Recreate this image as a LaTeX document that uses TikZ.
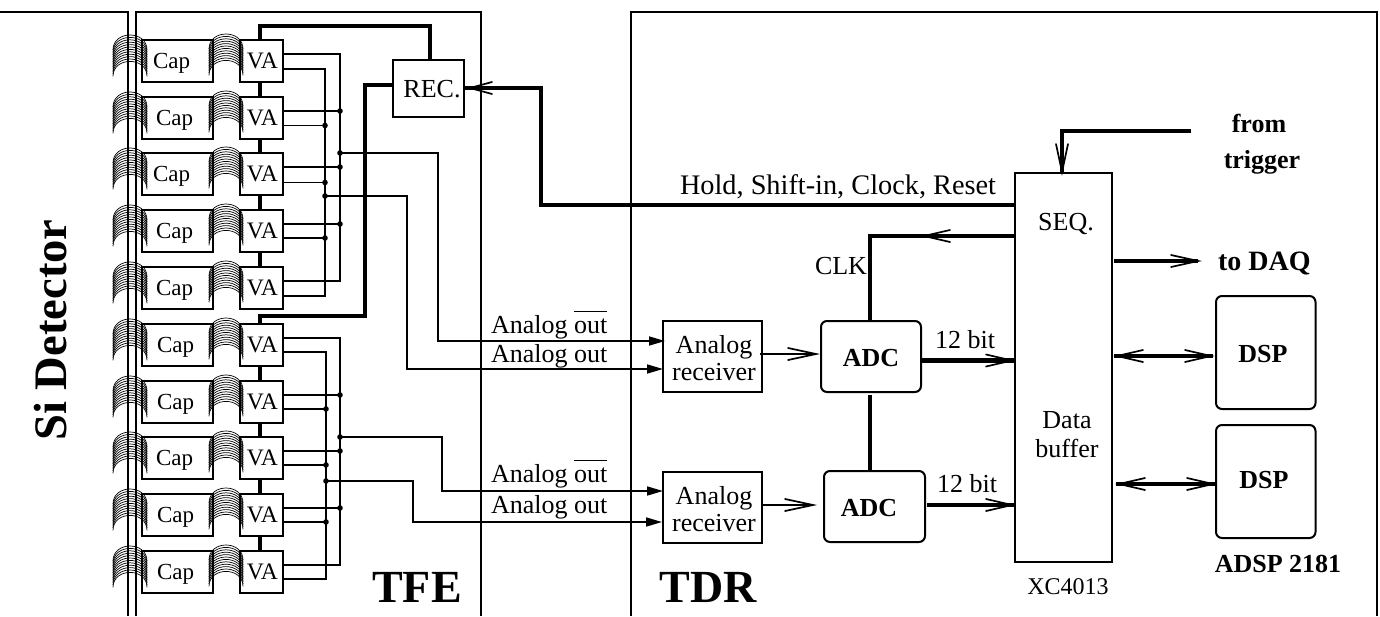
\documentclass[tikz,border=0pt]{standalone}
\usepackage{fontspec}
\setmainfont{Liberation Serif}
\usetikzlibrary{arrows.meta,calc}
\newcommand{\fs}[1]{\fontsize{#1}{#1}\selectfont}
\tikzset{
  x=0.5pt,y=-0.5pt,
  frame/.style={line width=0.85pt},
  sig/.style={line width=0.8pt},
  thick1/.style={line width=1.7pt},
  thick2/.style={line width=2.3pt},
  txt/.style={inner sep=0pt,outer sep=0pt,font=\fs{13}},
  boxn/.style={draw,line width=1pt,inner sep=0pt,outer sep=0pt,anchor=north west},
  dot/.style={circle,fill=black,inner sep=0pt,minimum size=2.8pt},
  arc1/.style={line width=0.35pt},
  fhead/.style={-{Triangle[length=8pt,width=4.5pt]}},
}
\newcommand{\vhead}[4][14]{%
  \draw[line width=0.85pt,line cap=round] ($(#2)+(#3*#1,#4*#1)+(-#4*6,#3*6)$) -- (#2) -- ($(#2)+(#3*#1,#4*#1)+(#4*6,-#3*6)$);}
\newcommand{\coil}[2]{%
  \foreach \k in {0,...,11}{%
    \draw[arc1] ($(#1,#2)+(0,2.4*\k+15)$) .. controls +(0,-20) and +(0,-20) .. +(34,0);}%
}
\newcommand{\ovout}{$\overline{\hbox{\rule{0pt}{9.4pt}out}}$}
\begin{document}
\begin{tikzpicture}
\useasboundingbox (0,0) rectangle (1380,616);
% frames
\coordinate (tl0) at (0,12); \coordinate (tl1) at (128,12); \coordinate (tl2) at (128,616);
\coordinate (f1) at (136,616); \coordinate (f2) at (136,12); \coordinate (f3) at (481,12); \coordinate (f4) at (481,616);
\coordinate (g1) at (631,616); \coordinate (g2) at (631,12); \coordinate (g3) at (1377,12); \coordinate (g4) at (1377,616);
\draw[frame] (tl0)--(tl1)--(tl2);
\draw[frame] (f1)--(f2)--(f3)--(f4);
\draw[frame] (g1)--(g2)--(g3)--(g4);
% rows
\foreach \n/\t/\cx in {1/40/153,2/97/156,3/153/153,4/210/156,5/267/156,6/324/157,7/381/157,8/437/156,9/494/157,10/551/157}{
  \coil{113}{\t-5}
  \coil{209}{\t-6}
  \node[boxn,minimum width=70.5*0.5pt,minimum height=42*0.5pt] (cap\n) at (142,\t) {};
  \node[txt,anchor=base west,font=\fs{11.5}] (captxt\n) at (\cx,\t+28) {Cap};
  \node[boxn,minimum width=43*0.5pt,minimum height=42*0.5pt] (va\n) at (240,\t) {};
  \node[txt,anchor=base,font=\fs{11.8}] (vatxt\n) at (262.5,\t+28) {VA};
}
% VA chains
\coordinate (busT) at (260,26);
\coordinate (busTR) at (430,26);
\node[boxn,minimum width=71*0.5pt,minimum height=57*0.5pt] (rec) at (393,60) {};
\node[txt,anchor=base] (rectxt) at (432,97) {REC.};
\draw[thick1] (260,40)--(busT)--(busTR)--(430,60);
\foreach \a/\b in {1/2,2/3,3/4,4/5,6/7,7/8,8/9,9/10}{
  \draw[thick1] (va\a.south -| 260,0)--(va\b.north -| 260,0);
}
\draw[thick1] (260,324)--(260,316)--(365,316)--(365,85)--(393,85);
% output buses, upper group
\draw[sig] (283,54)--(340,54)--(340,281)--(283,281);
\draw[sig] (283,69)--(325,69)--(325,296)--(283,296);
\foreach \y in {111,167,224}{\draw[sig] (283,\y)--(340,\y); \node[dot] at (340,\y) {};}
\foreach \y in {125.5,182.5,238}{\draw[sig] (283,\y)--(325,\y); \node[dot] at (325,\y) {};}
% lower group
\draw[sig] (283,338)--(340,338)--(340,565)--(283,565);
\draw[sig] (283,352)--(326,352)--(326,579)--(283,579);
\foreach \y in {395,451,508}{\draw[sig] (283,\y)--(340,\y); \node[dot] at (340,\y) {};}
\foreach \y in {409,465,522}{\draw[sig] (283,\y)--(326,\y); \node[dot] at (326,\y) {};}
% receivers
\node[boxn,minimum width=99.5*0.5pt,minimum height=71*0.5pt] (rx1) at (662.7,321) {};
\node[txt,anchor=base] (rx1a) at (714,353) {Analog};
\node[txt,anchor=base] (rx1b) at (714,380) {receiver};
\node[boxn,minimum width=99.5*0.5pt,minimum height=71*0.5pt] (rx2) at (662.7,472) {};
\node[txt,anchor=base] (rx2a) at (714,504) {Analog};
\node[txt,anchor=base] (rx2b) at (714,531) {receiver};
% analog outs
\node[dot] (d1) at (340,153) {}; \node[dot] (d2) at (325,196) {};
\node[dot] (d3) at (340,437) {}; \node[dot] (d4) at (326,481) {};
\draw[sig,fhead] (d1.center)--(438,153)--(438,341)--(665,341);
\draw[sig,fhead] (d2.center)--(407,196)--(407,369)--(663,369);
\draw[sig,fhead] (d3.center)--(442,437)--(442,491)--(663,491);
\draw[sig,fhead] (d4.center)--(413,481)--(413,522)--(662,522);
\node[txt,anchor=base west] (ao1) at (491,333) {Analog \ovout};
\node[txt,anchor=base west] (ao2) at (491,362) {Analog out};
\node[txt,anchor=base west] (ao3) at (491,482) {Analog \ovout};
\node[txt,anchor=base west] (ao4) at (491,513) {Analog out};
% ADC
\node[boxn,rounded corners=3pt,minimum width=100*0.5pt,minimum height=71*0.5pt] (adc1) at (821,321) {};
\node[boxn,rounded corners=3pt,minimum width=101*0.5pt,minimum height=71*0.5pt] (adc2) at (824,471) {};
\node[txt,anchor=base,font=\fs{13}\bfseries] (adc1t) at (871,366) {ADC};
\node[txt,anchor=base,font=\fs{13}\bfseries] (adc2t) at (869,516) {ADC};
\draw[line width=1pt] (760,354)--(816,354);
\vhead[28]{816,354}{-1}{0}
\draw[line width=1pt] (762,505)--(813,505);
\vhead[28]{813,505}{-1}{0}
% SEQ
\node[boxn,minimum width=97*0.5pt,minimum height=389*0.5pt] (seq) at (1014.5,173) {};
\node[txt,anchor=base] (seqt) at (1066,230) {SEQ.};
\node[txt,anchor=base] (dt1) at (1067,428) {Data};
\node[txt,anchor=base] (dt2) at (1067,457) {buffer};
\node[txt,anchor=base,font=\fs{12}] (xc) at (1068,594) {XC4013};
% clock
\draw[thick1] (870,321)--(870,236)--(1014,236);
\vhead[26]{924,236}{1}{0}
\node[txt,anchor=base east] (clk) at (867,274) {CLK};
\draw[thick1] (870,395)--(870,471);
% hold
\draw[thick1] (1014,205)--(541,205)--(541,88)--(465,88);
\vhead[22]{470,88}{1}{0}
\node[txt,anchor=base west,font=\fs{14.15}] (hold) at (680,194) {Hold, Shift-in, Clock, Reset};
% 12 bit
\draw[thick2] (921,360.5)--(1014,360.5);
\vhead[26]{1012,360.5}{-1}{0}
\node[txt,anchor=base] (b1) at (965,348) {12 bit};
\draw[thick2] (927,505)--(1014,505);
\vhead[26]{1012,505}{-1}{0}
\node[txt,anchor=base] (b2) at (967,492) {12 bit};
% trigger
\draw[thick1] (1191,131)--(1062,131)--(1062,173);
\vhead[28]{1062,172}{0}{-1}
\node[txt,anchor=base,font=\fs{13}\bfseries] (from) at (1259,132) {from};
\node[txt,anchor=base,font=\fs{13}\bfseries] (trig) at (1262,168) {trigger};
% DAQ
\draw[thick2] (1114,261)--(1198,261);
\vhead[27]{1198,261}{-1}{0}
\node[txt,anchor=base west,font=\fs{14}\bfseries] (daq) at (1218,270) {to DAQ};
% DSP
\node[boxn,rounded corners=3pt,minimum width=99.5*0.5pt,minimum height=113*0.5pt] (dsp1) at (1216,296) {};
\node[boxn,rounded corners=3pt,minimum width=99.5*0.5pt,minimum height=113*0.5pt] (dsp2) at (1216,425) {};
\node[txt,anchor=base,font=\fs{13}\bfseries] (dsp1t) at (1263,362) {DSP};
\node[txt,anchor=base,font=\fs{13}\bfseries] (dsp2t) at (1264,488) {DSP};
\node[txt,anchor=base,font=\fs{13}\bfseries] (adsp) at (1278,572) {ADSP 2181};
\draw[thick2] (1114,356)--(1213,356);
\vhead[26]{1117,356}{1}{0}
\vhead[26]{1211,356}{-1}{0}
\draw[thick2] (1116,484)--(1215,484);
\vhead[26]{1119,484}{1}{0}
\vhead[26]{1213,484}{-1}{0}
% labels
\node[txt,anchor=base,font=\fs{23}\bfseries] (tfe) at (417,602) {TFE};
\node[txt,anchor=base,font=\fs{23}\bfseries] (tdr) at (708,602) {TDR};
\node[txt,anchor=base,rotate=90,font=\fs{23.3}\bfseries] (si) at (66,330) {Si Detector};
\end{tikzpicture}
\end{document}
